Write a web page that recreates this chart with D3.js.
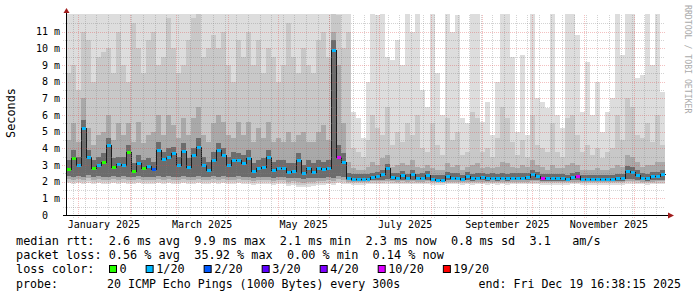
<!DOCTYPE html>
<meta charset="utf-8">
<style>
    body { margin: 0; background: #fff; }
    text { font-family: "DejaVu Sans Mono", monospace; }
</style>
<body>
<script src="https://cdn.jsdelivr.net/npm/d3@7"></script>
<script>
// smokeping style graph, 120 buckets of 3 days each, values in ms
var endTime = new Date(2025, 11, 19, 16, 38, 15);
var stepDays = 3;

// median rtt per bucket
var median = [2.75,3.4,3.0,5.2,3.5,2.8,3.0,3.2,4.2,2.9,
    3.05,3.0,3.8,2.65,3.1,2.8,2.95,2.75,3.9,3.35,
    3.5,3.7,3.0,3.85,2.9,3.6,4.1,3.0,2.7,3.3,
    3.9,3.6,3.0,3.3,3.3,3.1,3.4,2.65,2.8,2.9,
    3.5,2.7,2.8,2.8,2.6,2.62,3.3,2.5,2.8,2.6,
    2.85,2.75,2.8,9.9,3.5,3.2,2.2,2.15,2.15,2.15,
    2.18,2.3,2.35,2.45,2.8,2.3,2.25,2.4,2.22,2.45,
    2.22,2.24,2.4,2.18,2.12,2.12,2.32,2.25,2.25,2.15,
    2.35,2.2,2.24,2.3,2.22,2.24,2.22,2.24,2.22,2.24,
    2.25,2.24,2.26,2.45,2.35,2.22,2.2,2.2,2.2,2.2,
    2.18,2.28,2.34,2.15,2.14,2.14,2.14,2.14,2.14,2.16,
    2.2,2.2,2.65,2.6,2.42,2.25,2.22,2.32,2.35,2.45];

// lost pings (out of 20) per bucket
var loss = [0,0,1,1,1,0,1,0,1,0,
    1,1,0,0,1,0,1,2,1,1,
    1,1,1,1,1,1,1,1,1,1,
    1,1,1,1,1,1,1,1,1,1,
    1,1,1,1,1,1,1,1,1,1,
    1,1,1,1,10,1,1,1,1,1,
    1,1,1,1,1,1,1,1,1,1,
    1,1,1,1,1,1,1,1,1,1,
    1,1,1,1,1,1,1,1,1,1,
    1,1,1,1,1,10,1,1,1,1,
    1,1,10,1,1,1,1,1,1,1,
    1,1,1,1,1,1,1,1,1,1];

// smoke: outer band (slowest / fastest ping)
var pingMax = [13,13,13,13,13,13,13,13,13,13,
    13,13,13,13,13,13,13,13,13,13,
    13,13,13,13,13,13,13,13,13,13,
    13,13,13,13,13,13,13,13,13,13,
    13,13,13,13,13,13,13,13,13,13,
    13,13,13,13,13,13,13,6.2,5.8,4.6,
    8.0,13,12,13,9.5,9.3,10.5,9.0,13,11.0,
    13,7.5,6.5,13,8.5,6.0,13,11.0,12.0,5.8,
    5.5,13,13,5.6,6.8,4.8,8.0,13,13,9.5,
    5.0,9.6,4.8,13,7.0,6.8,6.4,13,6.0,5.2,
    13,13,10.8,6.2,9.2,6.0,8.0,5.0,6.2,7.0,
    13,9.6,13,13,8.2,8.4,13,9.0,13,7.4];
var pingMin = [1.9,1.85,1.9,1.88,1.95,1.88,1.9,1.88,1.85,1.9,
    1.88,1.9,1.85,1.85,1.9,1.88,1.88,1.85,1.9,1.88,
    1.9,1.85,1.88,1.9,1.85,1.88,1.9,1.88,1.85,1.9,
    1.88,1.9,1.85,1.88,1.9,1.88,1.85,1.8,1.85,1.85,
    1.88,1.8,1.85,1.85,1.75,1.78,1.68,1.66,1.7,1.72,
    1.78,1.8,1.85,1.8,1.9,1.85,1.84,1.83,1.83,1.83,
    1.84,1.85,1.85,1.86,1.87,1.85,1.84,1.85,1.84,1.85,
    1.84,1.84,1.85,1.83,1.82,1.82,1.84,1.84,1.84,1.83,
    1.84,1.83,1.84,1.84,1.83,1.84,1.83,1.84,1.83,1.84,
    1.84,1.84,1.84,1.86,1.85,1.83,1.83,1.83,1.83,1.83,
    1.82,1.84,1.84,1.82,1.81,1.81,1.81,1.81,1.81,1.82,
    1.83,1.83,1.87,1.87,1.85,1.84,1.83,1.84,1.85,1.86];

// second band
var band2Top = [8.5,9.0,7.5,11.0,10.5,8.0,9.5,9.8,10.0,8.5,
    11.0,9.0,8.0,11.5,10.0,8.5,10.5,11.0,9.0,9.5,
    11.8,10.0,8.5,9.0,10.5,11.8,12.5,9.5,10.0,10.8,
    10.0,11.0,9.0,8.0,10.5,9.5,11.0,9.0,10.5,8.5,
    10.0,9.5,8.0,9.0,11.5,9.5,8.5,10.0,9.0,8.5,
    10.5,11.0,9.5,13,12.0,10.0,11.0,4.0,3.8,3.5,
    4.5,6.0,5.2,4.8,6.5,4.2,5.0,4.4,5.5,4.8,
    6.0,4.0,3.8,5.5,4.2,3.6,5.8,4.5,5.0,3.6,
    3.8,6.2,5.8,3.8,4.0,3.5,4.6,6.5,5.8,4.4,
    3.6,4.5,3.5,6.0,4.2,4.0,3.8,5.5,3.8,3.5,
    5.8,6.0,4.8,3.8,4.2,3.6,4.0,3.4,3.8,4.0,
    6.0,4.5,7.0,6.5,4.8,4.6,5.5,4.4,6.0,4.2];
var band2Bot = [2.0,1.96,2.0,1.98,2.05,1.98,2.0,1.98,1.96,2.0,
    1.98,2.0,1.96,1.96,2.0,1.98,1.98,1.96,2.0,1.98,
    2.0,1.96,1.98,2.0,1.96,1.98,2.0,1.98,1.96,2.0,
    1.98,2.0,1.96,1.98,2.0,1.98,1.96,1.92,1.96,1.96,
    1.98,1.92,1.96,1.96,1.88,1.9,1.82,1.8,1.85,1.86,
    1.9,1.9,1.95,1.92,2.0,1.96,1.93,1.92,1.92,1.92,
    1.93,1.94,1.94,1.95,1.96,1.94,1.93,1.94,1.93,1.94,
    1.93,1.93,1.94,1.92,1.91,1.91,1.93,1.93,1.93,1.92,
    1.93,1.92,1.93,1.93,1.92,1.93,1.92,1.93,1.92,1.93,
    1.93,1.93,1.93,1.95,1.94,1.92,1.92,1.92,1.92,1.92,
    1.91,1.93,1.93,1.91,1.9,1.9,1.9,1.9,1.9,1.91,
    1.92,1.92,1.96,1.96,1.94,1.93,1.92,1.93,1.94,1.95];

// third band
var band3Top = [4.5,5.5,4.4,7.0,5.2,4.2,4.8,5.0,6.0,4.5,
    5.5,4.8,5.5,4.4,5.6,4.3,4.8,5.0,6.0,4.8,
    6.0,5.4,4.6,5.8,4.8,5.8,6.5,4.8,4.4,5.5,
    6.0,5.6,4.8,4.6,5.6,4.8,5.6,4.4,5.2,4.6,
    5.6,4.4,4.6,4.4,5.0,4.4,4.8,5.0,4.4,4.4,
    5.0,5.4,4.5,11.0,9.0,5.5,3.2,2.8,2.7,2.7,
    2.9,3.2,3.0,3.4,3.6,2.9,3.0,3.1,3.0,3.3,
    2.9,2.8,3.0,2.8,2.7,2.7,3.1,2.9,3.0,2.7,
    2.9,3.0,3.1,2.8,2.9,2.8,2.9,3.2,3.1,2.9,
    2.8,3.0,2.9,3.3,3.0,2.9,2.7,3.0,2.8,2.8,
    3.0,3.1,3.0,2.7,2.7,2.7,2.8,2.7,2.7,2.8,
    3.0,2.9,3.6,3.5,3.2,2.9,3.0,3.0,3.2,3.2];
var band3Bot = [2.15,2.1,2.15,2.1,2.2,2.12,2.15,2.12,2.1,2.15,
    2.12,2.15,2.1,2.1,2.15,2.12,2.12,2.1,2.15,2.12,
    2.15,2.1,2.12,2.15,2.1,2.12,2.15,2.12,2.1,2.15,
    2.12,2.15,2.1,2.12,2.15,2.12,2.1,2.05,2.1,2.1,
    2.12,2.05,2.1,2.1,2.0,2.05,1.98,1.95,2.0,2.0,
    2.05,2.05,2.1,2.05,2.15,2.1,2.0,1.98,1.98,1.98,
    2.0,2.02,2.02,2.04,2.05,2.02,2.0,2.02,2.0,2.02,
    2.0,2.0,2.02,1.98,1.97,1.97,2.0,2.0,2.0,1.98,
    2.0,1.98,2.0,2.0,1.98,2.0,1.98,2.0,1.98,2.0,
    2.0,2.0,2.0,2.04,2.02,1.98,1.98,1.98,1.98,1.98,
    1.97,2.0,2.0,1.97,1.96,1.96,1.96,1.96,1.96,1.97,
    1.98,1.98,2.05,2.05,2.02,2.0,1.98,2.0,2.02,2.04];

// inner band around the median
var band4Top = [3.3,3.9,3.5,5.7,3.9,3.3,3.5,3.7,4.6,3.4,
    3.5,3.5,4.2,3.1,3.6,3.3,3.4,3.2,4.4,3.8,
    4.0,4.1,3.5,4.3,3.4,4.0,4.6,3.5,3.2,3.8,
    4.3,4.0,3.5,3.8,3.7,3.6,3.9,3.1,3.3,3.4,
    3.9,3.2,3.3,3.3,3.1,3.1,3.7,3.0,3.3,3.1,
    3.3,3.2,3.3,10.5,4.2,3.7,2.5,2.45,2.45,2.45,
    2.45,2.55,2.6,2.7,3.05,2.55,2.5,2.65,2.45,2.7,
    2.45,2.5,2.65,2.42,2.38,2.38,2.58,2.5,2.5,2.4,
    2.6,2.45,2.5,2.55,2.46,2.5,2.46,2.5,2.46,2.5,
    2.5,2.5,2.5,2.72,2.6,2.46,2.45,2.45,2.45,2.45,
    2.42,2.52,2.6,2.4,2.38,2.38,2.38,2.38,2.38,2.4,
    2.45,2.45,2.95,2.9,2.7,2.5,2.46,2.58,2.6,2.7];
var band4Bot = [2.35,2.3,2.35,2.3,2.4,2.3,2.35,2.3,2.3,2.35,
    2.3,2.35,2.3,2.3,2.35,2.3,2.3,2.3,2.35,2.3,
    2.35,2.3,2.3,2.35,2.3,2.3,2.35,2.3,2.3,2.35,
    2.3,2.35,2.3,2.3,2.35,2.3,2.3,2.25,2.3,2.3,
    2.3,2.25,2.3,2.3,2.2,2.25,2.2,2.15,2.2,2.2,
    2.25,2.25,2.3,2.2,2.35,2.3,2.08,2.06,2.06,2.06,
    2.08,2.1,2.1,2.12,2.15,2.1,2.08,2.1,2.08,2.1,
    2.08,2.08,2.1,2.06,2.04,2.04,2.08,2.08,2.08,2.06,
    2.08,2.06,2.08,2.08,2.06,2.08,2.06,2.08,2.06,2.08,
    2.08,2.08,2.08,2.12,2.1,2.06,2.06,2.06,2.06,2.06,
    2.05,2.08,2.08,2.05,2.04,2.04,2.04,2.04,2.04,2.05,
    2.06,2.06,2.15,2.15,2.1,2.08,2.06,2.08,2.1,2.12];

// axis labels and legend
var yTickValues = [0,1,2,3,4,5,6,7,8,9,10,11];
var xLabelMonths = [0,2,4,6,8,10];
var xLabels = ["January 2025","March 2025","May 2025","July 2025","September 2025","November 2025"];
var lossLevels = [0,1,2,3,4,10,19];
var lossLabels = ["0","1/20","2/20","3/20","4/20","10/20","19/20"];
var lossColors = ["#26ff00","#00b8ff","#0059ff","#5e00ff","#7e00ff","#dd00ff","#ff0000"];

var svg = d3.select("body").append("svg")
    .attr("width", 697)
    .attr("height", 297);

var startTime = d3.timeDay.offset(endTime, -360);
var x = d3.scaleTime().domain([startTime, endTime]).range([66, 665]);
var y = d3.scaleLinear().domain([0, 12]).range([215, 15]);

var times = median.map(function(d, i) { return d3.timeDay.offset(startTime, i * stepDays); });
times.push(endTime);

svg.append("clipPath").attr("id", "plot")
  .append("rect").attr("x", 67).attr("y", 14).attr("width", 599).attr("height", 201);

var plot = svg.append("g").attr("clip-path", "url(#plot)");

// smoke bands, outer to inner
var bands = [
    {lo: pingMin, hi: pingMax, color: "#dddddd"},
    {lo: band2Bot, hi: band2Top, color: "#c8c8c8"},
    {lo: band3Bot, hi: band3Top, color: "#a9a9a9"},
    {lo: band4Bot, hi: band4Top, color: "#6c6c6c"}
];
var area = d3.area()
    .curve(d3.curveStepAfter)
    .x(function(d) { return x(d.t); })
    .y0(function(d) { return y(d.lo); })
    .y1(function(d) { return y(d.hi); });

bands.forEach(function(b) {
    var pts = times.map(function(t, i) {
        var k = Math.min(i, median.length - 1);
        return {t: t, lo: b.lo[k], hi: b.hi[k]};
    });
    plot.append("path")
        .datum(pts)
        .attr("fill", b.color)
        .attr("shape-rendering", "crispEdges")
        .attr("d", area);
});

// grid
var grid = svg.append("g").attr("shape-rendering", "crispEdges").attr("stroke-dasharray", "1,1");
d3.timeSunday.range(startTime, endTime).forEach(function(d) {
    var px = Math.round(x(d)) + 0.5;
    grid.append("line").attr("x1", px).attr("x2", px).attr("y1", 15).attr("y2", 218)
        .attr("stroke", "rgba(130,130,130,0.35)");
});
d3.range(1, 24).forEach(function(k) {
    if (k % 2 == 0) return;
    var py = Math.round(y(k / 2)) + 0.5;
    grid.append("line").attr("x1", 63).attr("x2", 665).attr("y1", py).attr("y2", py)
        .attr("stroke", "rgba(130,130,130,0.35)");
});
d3.timeMonth.range(d3.timeMonth.ceil(startTime), endTime).forEach(function(d) {
    var px = Math.round(x(d)) + 0.5;
    grid.append("line").attr("x1", px).attr("x2", px).attr("y1", 15).attr("y2", 219)
        .attr("stroke", "rgba(222,70,70,0.34)");
});
yTickValues.slice(1).forEach(function(v) {
    var py = Math.round(y(v)) + 0.5;
    grid.append("line").attr("x1", 62).attr("x2", 665).attr("y1", py).attr("y2", py)
        .attr("stroke", "rgba(222,70,70,0.34)");
});

// median line: black steps, coloured by loss
var medPts = times.map(function(t, i) { return {t: t, v: median[Math.min(i, median.length - 1)]}; });
plot.append("path")
    .datum(medPts)
    .attr("fill", "none")
    .attr("stroke", "#1a1a1a")
    .attr("stroke-width", 1)
    .attr("shape-rendering", "crispEdges")
    .attr("d", d3.line().curve(d3.curveStepAfter)
        .x(function(d) { return Math.round(x(d.t)) + 0.5; })
        .y(function(d) { return Math.round(y(d.v)) + 0.5; }));

var lossColor = d3.scaleOrdinal().domain(lossLevels).range(lossColors);
plot.selectAll("rect.med")
    .data(median)
    .enter().append("rect")
    .attr("class", "med")
    .attr("x", function(d, i) { return Math.round(x(times[i])) + 1; })
    .attr("width", function(d, i) { return Math.max(1, Math.round(x(times[i + 1])) - Math.round(x(times[i])) - 1); })
    .attr("y", function(d) { return Math.round(y(d)) - 1; })
    .attr("height", 3)
    .attr("fill", function(d, i) { return lossColor(loss[i]); });

// axes
svg.append("line").attr("x1", 66.5).attr("x2", 66.5).attr("y1", 12).attr("y2", 216)
    .attr("stroke", "#000");
svg.append("line").attr("x1", 63).attr("x2", 669).attr("y1", 215.5).attr("y2", 215.5)
    .attr("stroke", "#000");
svg.append("path").attr("d", "M66.5,8 L69.5,13 L63.5,13 Z").attr("fill", "#a01c1c");
svg.append("path").attr("d", "M674,215.5 L668,212.5 L668,218.5 Z").attr("fill", "#a01c1c");

// tick labels
svg.selectAll("text.ylab")
    .data(yTickValues)
    .enter().append("text")
    .attr("class", "ylab")
    .attr("x", function(d) { return d == 0 ? 48 : 60; })
    .attr("y", function(d) { return y(d) + 3.5; })
    .attr("text-anchor", "end")
    .style("font-size", "10px")
    .text(function(d) { return d == 0 ? "0" : d + " m"; });

svg.selectAll("text.xlab")
    .data(xLabelMonths)
    .enter().append("text")
    .attr("class", "xlab")
    .attr("x", function(m) {
        var a = new Date(2025, m, 1), b = new Date(2025, m + 1, 1);
        return (x(a) + x(b)) / 2;
    })
    .attr("y", 228)
    .attr("text-anchor", "middle")
    .style("font-size", "10px")
    .text(function(m, i) { return xLabels[i]; });

svg.append("text")
    .attr("transform", "translate(15,113) rotate(-90)")
    .attr("text-anchor", "middle")
    .style("font-size", "11.85px")
    .text("Seconds");

svg.append("text")
    .attr("transform", "translate(685,5) rotate(90)")
    .style("font-size", "8.2px")
    .attr("fill", "#aaaaaa")
    .text("RRDTOOL / TOBI OETIKER");

// legend
var legendRows = [
    "median rtt:  2.6 ms avg  9.9 ms max  2.1 ms min  2.3 ms now  0.8 ms sd  3.1   am/s",
    "packet loss: 0.56 % avg  35.92 % max  0.00 % min  0.14 % now",
    "loss color:"
];
var rowY = [244.5, 259, 273.2];
legendRows.forEach(function(s, i) {
    svg.append("text")
        .attr("x", 16).attr("y", rowY[i])
        .style("font-size", "11.85px")
        .style("white-space", "pre")
        .text(s);
});

var charW = 7.13;
var sx = 109;
lossLabels.forEach(function(lab, i) {
    svg.append("rect")
        .attr("x", sx + 0.5).attr("y", 265.5)
        .attr("width", 7).attr("height", 7)
        .attr("fill", lossColors[i])
        .attr("stroke", "#000");
    svg.append("text")
        .attr("x", sx + 10.5).attr("y", 273.2)
        .style("font-size", "11.85px")
        .text(lab);
    sx = sx + 10 + lab.length * charW + 19.5;
});

svg.append("text")
    .attr("x", 16).attr("y", 287.5)
    .style("font-size", "11.6px")
    .text("probe:");
svg.append("text")
    .attr("x", 107).attr("y", 287.5)
    .style("font-size", "11.6px")
    .text("20 ICMP Echo Pings (1000 Bytes) every 300s");
svg.append("text")
    .attr("x", 681).attr("y", 287.5)
    .attr("text-anchor", "end")
    .style("font-size", "11.6px")
    .text("end: Fri Dec 19 16:38:15 2025");
</script>
</body>
